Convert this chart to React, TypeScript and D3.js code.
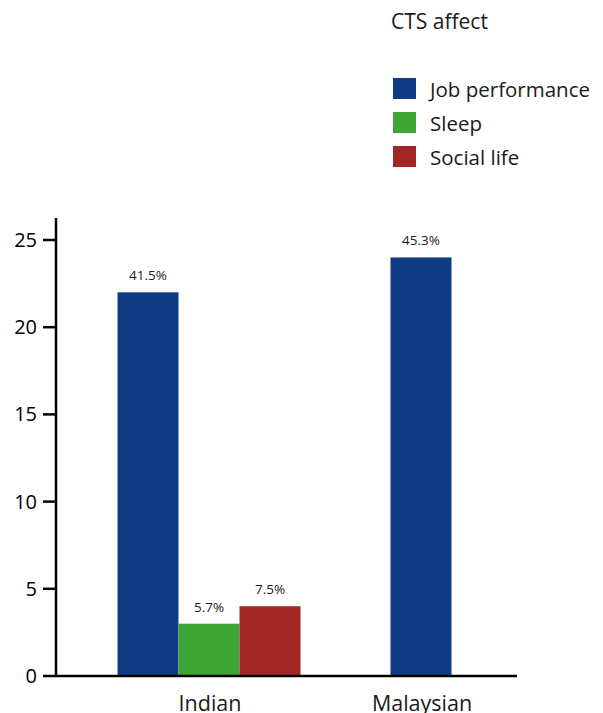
import React from "react";
import * as d3 from "d3";

const categories = ["Indian", "Malaysian"];
const seriesNames = ["Job performance", "Sleep", "Social life"];
const seriesColors = ["#0f3c83", "#3fa535", "#a02724"];
// value per category per series (null = not reported)
const jobPerformance = [22, 24];
const sleep = [3, null];
const socialLife = [4, null];
const jobLabels = ["41.5%", "45.3%"];
const sleepLabels = ["5.7%", ""];
const socialLabels = ["7.5%", ""];
const yTicks = [0, 5, 10, 15, 20, 25];
const legendTitle = "CTS affect";

const W = 603;
const H = 713;
const FONT = "'Open Sans', 'Noto Sans', sans-serif";

export default function App() {
  const x0 = 56;
  const xEnd = 517;
  const yBase = 676;
  const yTopAxis = 218;

  const y = d3.scaleLinear().domain([0, 25]).range([yBase, 240]);
  const xGroup = d3.scaleBand<string>().domain(categories).range([103, 527]).padding(0);
  const barW = 61;

  const seriesValues = [jobPerformance, sleep, socialLife];
  const seriesLabels = [jobLabels, sleepLabels, socialLabels];

  const bars: { x: number; v: number; color: string; label: string; key: string }[] = [];
  categories.forEach((cat, ci) => {
    const present = seriesValues
      .map((vals, si) => ({ si, v: vals[ci] }))
      .filter((d) => d.v !== null && d.v !== undefined) as { si: number; v: number }[];
    const center = (xGroup(cat) ?? 0) + xGroup.bandwidth() / 2;
    const inner = d3
      .scaleBand<number>()
      .domain(present.map((d) => d.si))
      .range([center - (present.length * barW) / 2, center + (present.length * barW) / 2]);
    present.forEach((d) => {
      bars.push({
        x: inner(d.si) ?? 0,
        v: d.v,
        color: seriesColors[d.si],
        label: seriesLabels[d.si][ci],
        key: `${cat}-${d.si}`,
      });
    });
  });

  return (
    <svg
      width={W}
      height={H}
      style={{ position: "absolute", left: 0, top: 0, background: "#fff" }}
      fontFamily={FONT}
    >
      {/* legend */}
      <text x={391} y={29} fontSize={21} fill="#1a1a1a">
        {legendTitle}
      </text>
      {seriesNames.map((name, i) => (
        <g key={name} transform={`translate(393, ${78 + i * 34})`}>
          <rect width={23} height={21} fill={seriesColors[i]} />
          <text x={37} y={18.5} fontSize={20.5} fill="#1a1a1a">
            {name}
          </text>
        </g>
      ))}

      {/* bars */}
      {bars.map((b) => (
        <g key={b.key}>
          <rect x={b.x} y={y(b.v)} width={barW} height={yBase - y(b.v)} fill={b.color} />
          <text
            x={b.x + barW / 2}
            y={y(b.v) - 12}
            fontSize={13.5}
            textAnchor="middle"
            fill="#1a1a1a"
          >
            {b.label}
          </text>
        </g>
      ))}

      {/* y axis */}
      <line x1={x0} x2={x0} y1={yTopAxis} y2={yBase + 1} stroke="#000" strokeWidth={2.5} />
      {yTicks.map((t) => (
        <g key={t}>
          <line x1={43} x2={x0} y1={y(t)} y2={y(t)} stroke="#000" strokeWidth={2.5} />
          <text x={37} y={y(t) + 7} fontSize={20} textAnchor="end" fill="#000">
            {t}
          </text>
        </g>
      ))}

      {/* x axis */}
      <line x1={x0 - 1} x2={xEnd} y1={yBase} y2={yBase} stroke="#000" strokeWidth={2.5} />
      {categories.map((c) => (
        <text
          key={c}
          x={(xGroup(c) ?? 0) + xGroup.bandwidth() / 2 + 1}
          y={711}
          fontSize={21.5}
          textAnchor="middle"
          fill="#1a1a1a"
        >
          {c}
        </text>
      ))}
    </svg>
  );
}
